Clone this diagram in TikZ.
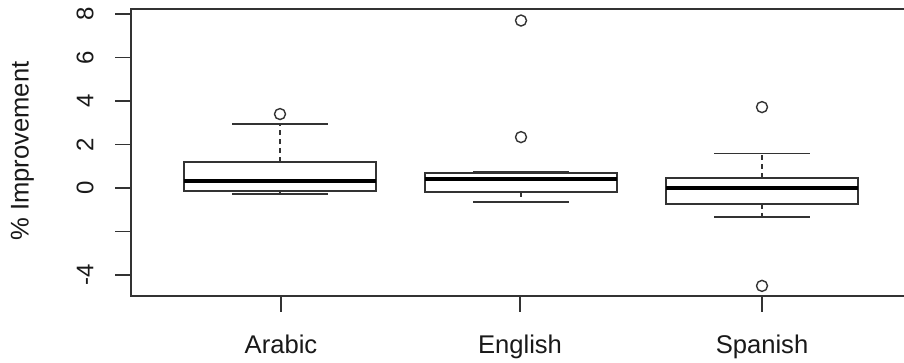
\documentclass[tikz,border=0pt]{standalone}
\usepackage{fontspec}
\setmainfont{Liberation Sans}
\begin{document}
\begin{tikzpicture}[x=1pt,y=21.75pt,line cap=butt,
  axisln/.style={draw=black!80,line width=1.6pt},
  boxst/.style={draw=black!80,line width=1.5pt},
  med/.style={draw=black,line width=4pt},
  whisk/.style={draw=black!80,line width=1.4pt,dash pattern=on 5pt off 4pt},
  capst/.style={draw=black!80,line width=1.4pt},
  outl/.style={circle,draw=black!80,line width=1.4pt,minimum size=11pt,inner sep=0pt},
  lab/.style={font=\fontsize{25.6}{30}\selectfont,text=black!90,inner sep=0pt}]
\useasboundingbox (0,-8) rectangle (904,8.6437);
\fill[white] (0,-8) rectangle (904,8.6437);
% frame
\draw[axisln] (904,8.23) -- (131,8.23) -- (131,-4.966) -- (904,-4.966);
% y ticks
\foreach \v in {-4,-2,0,2,4,6,8} \draw[axisln] (115,\v) -- (131,\v);
\foreach \v/\t in {8/8,6/6,4/4,2/2,0/0,-4/-4}
  \node[lab,rotate=90,font=\fontsize{24}{28}\selectfont] (yl\v) at (85,\v) {\t};
\node[lab,rotate=90] (ylab) at (22.5,1.70) {\% Improvement};
% x ticks
\foreach \x/\n in {281/Arabic,520/English,762/Spanish}{
  \draw[axisln] (\x,-4.966) -- (\x,-5.70);
  \node[lab,anchor=base] (xl\n) at (\x,-7.586) {\n};
}
% Arabic
\draw[whisk] (280,1.19) -- (280,2.94);
\draw[capst] (232,2.94) -- (328,2.94);
\draw[whisk] (280,-0.14) -- (280,-0.28);
\draw[capst] (232,-0.28) -- (328,-0.28);
\draw[boxst] (184,-0.14) rectangle (376,1.19);
\draw[med] (184,0.32) -- (376,0.32);
\node[outl] (ar1) at (280,3.4) {};
% English
\draw[whisk] (521,0.69) -- (521,0.73);
\draw[capst] (473,0.73) -- (569,0.73);
\draw[whisk] (521,-0.18) -- (521,-0.64);
\draw[capst] (473,-0.64) -- (569,-0.64);
\draw[boxst] (425,-0.18) rectangle (617,0.69);
\draw[med] (425,0.41) -- (617,0.41);
\node[outl] (en1) at (521,7.7) {};
\node[outl] (en2) at (521,2.34) {};
% Spanish
\draw[whisk] (762,0.46) -- (762,1.6);
\draw[capst] (714,1.6) -- (810,1.6);
\draw[whisk] (762,-0.73) -- (762,-1.33);
\draw[capst] (714,-1.33) -- (810,-1.33);
\draw[boxst] (666,-0.73) rectangle (858,0.46);
\draw[med] (666,0) -- (858,0);
\node[outl] (sp1) at (762,3.72) {};
\node[outl] (sp2) at (762,-4.5) {};
\end{tikzpicture}
\end{document}
